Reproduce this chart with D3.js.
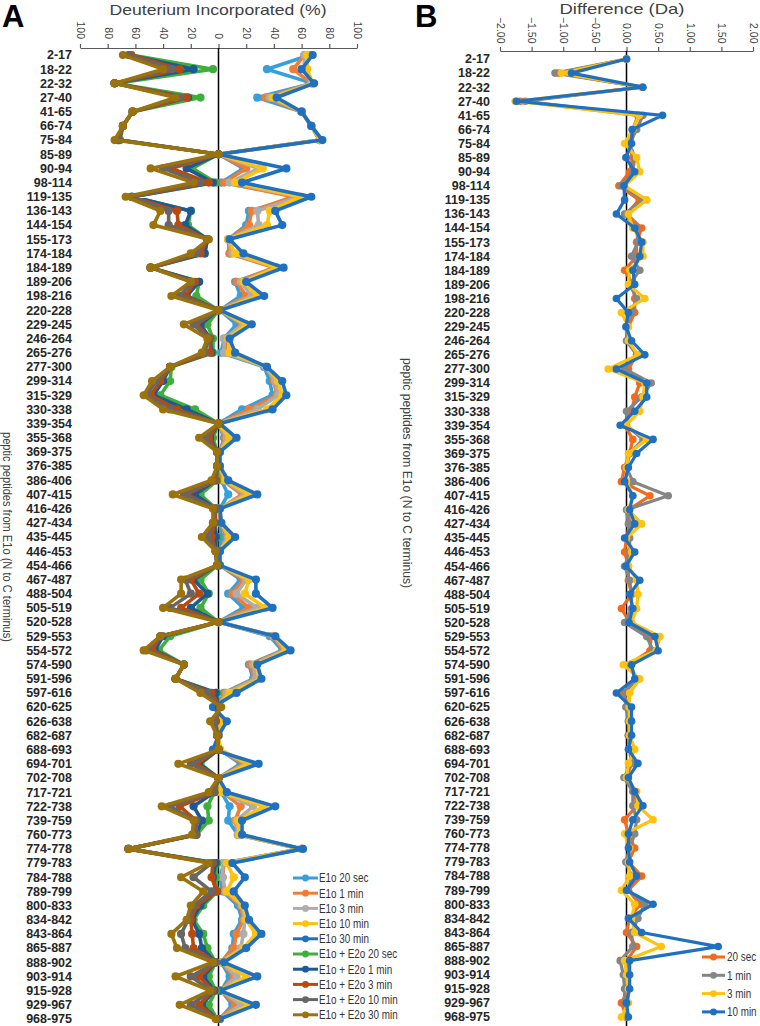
<!DOCTYPE html>
<html>
<meta charset="utf-8">
<style>
  body { margin: 0; background: #fff; }
  svg { display: block; }
  text { font-family: "Liberation Sans", Arial, sans-serif; }
</style>
<body>
<script src="https://d3js.org/d3.v7.min.js"></script>
<script>
// peptides, N to C terminus
const peptides = ["2-17","18-22","22-32","27-40","41-65","66-74","75-84","85-89","90-94","98-114",
  "119-135","136-143","144-154","155-173","174-184","184-189","189-206","198-216","220-228","229-245",
  "246-264","265-276","277-300","299-314","315-329","330-338","339-354","355-368","369-375","376-385",
  "386-406","407-415","416-426","427-434","435-445","446-453","454-466","467-487","488-504","505-519",
  "520-528","529-553","554-572","574-590","591-596","597-616","620-625","626-638","682-687","688-693",
  "694-701","702-708","717-721","722-738","739-759","760-773","774-778","779-783","784-788","789-799",
  "800-833","834-842","843-864","865-887","888-902","903-914","915-928","929-967","968-975"];

// panel A, E1o alone (% D, plotted to the right)
const e1o_20s = [66,35,68,28,60,67,73,0,18,2, 60,22,20,7,8,42,12,16,1,13, 4,2,33,37,39,17,0,4,1,1,
  2,7,1,1,2,1,1,16,7,18, 0,37,46,22,25,4,-1,1,0,1, 16,0,2,8,7,14,60,4,1,3, 14,17,11,10,2,8,2,10,1];
const e1o_1m = [62,54,67,34,60,67,73,0,20,4, 54,24,22,7,8,40,13,20,1,17, 5,5,34,40,42,22,0,5,1,1,
  3,17,1,1,6,1,1,18,10,22, 0,39,47,23,26,5,-1,1,0,1, 18,0,3,16,12,14,60,4,3,4, 16,18,13,11,2,11,2,12,1];
const e1o_3m = [62,62,67,37,60,67,73,0,29,8, 58,28,29,7,10,42,16,24,1,18, 4,4,34,41,43,28,0,6,1,1,
  4,19,1,2,7,1,1,20,13,28, 0,40,48,25,27,6,-1,1,0,1, 20,0,2,25,13,14,60,3,3,5, 17,19,18,16,2,13,2,16,1];
const e1o_10m = [64,64,68,39,60,67,74,0,32,12, 59,37,35,7,12,42,18,28,1,20, 7,8,35,43,46,35,0,8,1,1,
  5,22,1,2,8,1,1,22,19,34, 0,41,49,27,30,8,-1,2,0,1, 22,0,2,33,14,15,60,6,11,6, 18,20,27,18,2,20,2,22,1];
const e1o_30m = [68,60,69,42,60,67,75,0,49,17, 67,41,46,8,18,47,20,33,1,24, 8,12,35,46,49,39,1,13,1,1,
  7,28,1,2,12,1,1,27,27,39, 0,41,52,28,31,13,-4,6,0,-4, 29,0,6,41,17,17,61,10,19,11, 19,22,31,20,4,28,1,27,1];

// panel A, E1o + E2o (% D, plotted to the left)
const e2o_20s = [63,4,75,13,62,69,71,0,19,2, 62,20,22,8,10,49,14,16,0,8, 4,4,34,35,42,17,0,4,1,1,
  1,13,2,3,1,2,1,13,7,13, 0,35,43,25,31,1,0,2,1,0, 13,0,3,8,7,16,65,1,2,1, 11,18,11,8,2,7,2,7,1];
const e2o_1m = [64,18,75,22,62,69,72,0,23,4, 62,20,24,8,10,49,14,23,0,13, 6,5,35,40,47,23,0,6,1,1,
  2,17,2,3,2,2,1,18,8,20, 0,40,46,25,31,2,0,2,1,0, 14,0,3,18,12,16,65,2,4,2, 13,19,14,12,2,11,3,12,1];
const e2o_3m = [63,28,75,23,62,69,72,0,34,7, 63,30,29,8,13,49,17,24,0,16, 6,6,35,42,49,30,0,7,1,1,
  2,23,2,3,5,2,1,20,14,27, 0,42,48,25,31,5,-1,2,1,0, 16,0,3,28,16,16,65,4,5,1, 16,20,19,18,2,14,4,14,1];
const e2o_10m = [65,34,75,28,62,69,73,0,40,13, 63,36,36,8,16,49,19,28,0,18, 7,10,35,45,52,35,0,10,1,1,
  4,25,2,4,8,2,1,24,20,35, 0,42,52,25,31,8,-1,3,1,0, 20,0,4,35,17,17,65,5,18,5, 18,22,27,24,2,20,5,20,1];
const e2o_30m = [69,40,75,31,62,69,75,0,49,18, 67,42,47,7,20,49,20,34,0,25, 8,12,35,48,54,40,0,14,1,1,
  5,33,4,4,12,2,1,27,27,40, 0,42,54,25,31,13,-2,6,1,0, 29,0,7,41,18,19,65,7,27,11, 20,23,34,30,4,31,6,28,2];

// panel B, difference (Da)
const diff_20s = [0,-1.08,0.25,-1.68,0.18,0.1,0.03,0.1,0.05,-0.12, 0.2,0,0.24,0.16,0.16,-0.03,0.1,0.13,0.13,0.03,
  0.03,0.16,0.03,0.21,0.13,0.08,-0.03,0.1,0.05,-0.03, -0.08,0.37,0.03,0.05,0,-0.03,0.03,0.03,0.08,-0.08,
  0.05,0.39,0.37,0.03,0.16,-0.05,0.03,0.05,0.03,0.05, 0.08,0,0.13,0.16,-0.03,0.03,0.13,0.03,0.24,0.03,
  0.21,0.05,0,0.16,0,0,0.03,-0.08,0];
const diff_1m = [0,-1.13,0.25,-1.6,0.26,0.16,0.05,0.13,0.1,-0.08, 0.26,-0.03,0.16,0.18,0.08,0.21,0.05,0.16,0.08,0,
  0,0.16,-0.03,0.39,0.24,0,0,0.26,0.05,0, 0.1,0.66,0,0.03,0.05,0.05,-0.03,0.05,0.08,0.08,
  -0.03,0.32,0.42,0.05,0.16,-0.03,-0.01,0.03,0.03,0.05, 0.08,-0.04,0.1,0.1,0.16,0.13,0.05,-0.01,0.08,0.03,
  0.29,0.18,0.08,0.1,-0.1,-0.05,-0.03,-0.03,-0.01];
const diff_3m = [0,-1.03,0.25,-1.76,0.2,0.1,-0.03,0.16,0.21,-0.03, 0.32,0.03,0.1,0.26,0.26,0.05,0.03,0.29,-0.08,0.03,
  0.03,0.18,-0.29,0.29,0.26,0.21,-0.01,0.32,0.03,0, 0,0.1,0.03,0.24,0,0.08,0.03,0.16,0.18,0.16,
  0.08,0.53,0.47,-0.05,0.21,0.05,0.04,0.05,0.05,0.13, 0.03,0,0.16,0.18,0.42,-0.03,0.05,0.03,0.05,-0.08,
  0.13,0.08,0.13,0.55,-0.03,0,0.03,0.03,-0.08];
const diff_10m = [0,-0.87,0.26,-1.74,0.57,0.09,0.08,-0.01,0.13,-0.04, -0.03,-0.16,0.13,0.24,0.21,0.1,0.13,-0.16,0.03,-0.01,
  0.08,0.29,-0.16,0.32,0.32,0.13,-0.1,0.42,0.16,0.03, -0.03,0.1,0.05,0.13,-0.03,0.13,-0.01,0.21,0.05,0.1,
  0.04,0.45,0.5,0.08,0.13,-0.16,0.08,0.08,0.08,0.03, 0.18,0.03,0.13,0.26,0.1,0.03,0.03,0.05,0.16,0,
  0.42,0.03,0.24,1.45,0.05,0.05,0.05,0,0.03];

const tickA = [-100,-80,-60,-40,-20,0,20,40,60,80,100];
const tickB = [-2,-1.5,-1,-0.5,0,0.5,1,1.5,2];

// series tables (sign: E1o+E2o is drawn on the left)
const seriesA = [
  {name: "E1o 20 sec", values: e1o_20s, sign: 1, color: "#35a0dc"},
  {name: "E1o 1 min", values: e1o_1m, sign: 1, color: "#f07d33"},
  {name: "E1o 3 min", values: e1o_3m, sign: 1, color: "#adadad"},
  {name: "E1o 10 min", values: e1o_10m, sign: 1, color: "#ffc20e"},
  {name: "E1o 30 min", values: e1o_30m, sign: 1, color: "#1f70c1"},
  {name: "E1o + E2o 20 sec", values: e2o_20s, sign: -1, color: "#3fae3a"},
  {name: "E1o + E2o 1 min", values: e2o_1m, sign: -1, color: "#1b5a95"},
  {name: "E1o + E2o 3 min", values: e2o_3m, sign: -1, color: "#b84a0e"},
  {name: "E1o + E2o 10 min", values: e2o_10m, sign: -1, color: "#666666"},
  {name: "E1o + E2o 30 min", values: e2o_30m, sign: -1, color: "#9b720c"}
];
const seriesB = [
  {name: "20 sec", values: diff_20s, color: "#f26a1b"},
  {name: "1 min", values: diff_1m, color: "#858585"},
  {name: "3 min", values: diff_3m, color: "#ffc20e"},
  {name: "10 min", values: diff_10m, color: "#1f70c1"}
];

const W = 760, H = 1026;
const svg = d3.select("body").append("svg").attr("width", W).attr("height", H);

// condensed legend text (narrow font not installed, so squeeze horizontally)
function legendText(sel, x, size) {
  sel.append("text").attr("transform", `translate(${x},0) scale(0.79,1)`).attr("dy", "0.35em")
    .style("font-size", size + "px").attr("fill", "#333").text(d => d.name);
}

// ---------- panel A ----------
const xA = d3.scaleLinear().domain([-100, 100]).range([80, 357]);
const yA = d3.scalePoint().domain(peptides).range([55, 1019]);

svg.append("text").attr("x", 2).attr("y", 27)
  .style("font-size", "31px").style("font-weight", "bold").attr("fill", "#000").text("A");
svg.append("text").attr("x", 218).attr("y", 15).attr("text-anchor", "middle")
  .attr("textLength", 217).attr("lengthAdjust", "spacingAndGlyphs")
  .style("font-size", "15px").attr("fill", "#404040").text("Deuterium Incorporated (%)");

const axA = svg.append("g").attr("transform", "translate(0,48)")
  .call(d3.axisTop(xA).tickValues(tickA).tickSize(4).tickSizeOuter(0).tickFormat(d => Math.abs(d)));
axA.selectAll("path, line").attr("stroke", "#595959").attr("stroke-width", 1.2);
axA.selectAll("text").attr("transform", "rotate(90)").attr("x", -9).attr("y", 0).attr("dy", "0.35em")
  .attr("text-anchor", "end").style("font-size", "10.5px").attr("fill", "#404040");

svg.append("line").attr("x1", xA(0)).attr("x2", xA(0)).attr("y1", 48).attr("y2", H)
  .attr("stroke", "#000").attr("stroke-width", 1.5);

svg.append("g").selectAll("text").data(peptides).join("text")
  .attr("x", 72).attr("y", d => yA(d)).attr("dy", "0.35em").attr("text-anchor", "end")
  .style("font-size", "12.5px").style("font-weight", "bold").attr("fill", "#262626").text(d => d);

svg.append("text").attr("transform", "translate(8,537) rotate(90)").attr("text-anchor", "middle")
  .attr("dy", "0.35em").attr("textLength", 210).attr("lengthAdjust", "spacingAndGlyphs")
  .style("font-size", "13px").attr("fill", "#404040").text("peptic peptides from E1o (N to C terminus)");

seriesA.forEach(s => {
  const g = svg.append("g");
  const line = d3.line().x(d => xA(s.sign * d)).y((d, i) => yA(peptides[i]));
  g.append("path").attr("d", line(s.values)).attr("fill", "none")
    .attr("stroke", s.color).attr("stroke-width", 3.6).attr("stroke-linejoin", "round");
  g.selectAll("circle").data(s.values).join("circle")
    .attr("cx", d => xA(s.sign * d)).attr("cy", (d, i) => yA(peptides[i])).attr("r", 4.1)
    .attr("fill", s.color);
});

const legA = svg.append("g").selectAll("g").data(seriesA).join("g")
  .attr("transform", (d, i) => `translate(293,${878 + i * 15.2})`);
legA.append("line").attr("x1", 0).attr("x2", 25).attr("stroke", d => d.color).attr("stroke-width", 3);
legA.append("circle").attr("cx", 12.5).attr("r", 3.4).attr("fill", d => d.color);
legendText(legA, 26, 12.5);

// ---------- panel B ----------
const xB = d3.scaleLinear().domain([-2, 2]).range([500, 753]);
const yB = d3.scalePoint().domain(peptides).range([59, 1017]);

svg.append("text").attr("x", 415).attr("y", 27)
  .style("font-size", "31px").style("font-weight", "bold").attr("fill", "#000").text("B");
svg.append("text").attr("x", 622).attr("y", 14).attr("text-anchor", "middle")
  .attr("textLength", 125).attr("lengthAdjust", "spacingAndGlyphs")
  .style("font-size", "15px").attr("fill", "#404040").text("Difference (Da)");

const axB = svg.append("g").attr("transform", "translate(0,51)")
  .call(d3.axisTop(xB).tickValues(tickB).tickSize(4).tickSizeOuter(0).tickFormat(d3.format(".2f")));
axB.selectAll("path, line").attr("stroke", "#595959").attr("stroke-width", 1.2);
axB.selectAll("text").attr("transform", "rotate(90)").attr("x", -7.5).attr("y", 0).attr("dy", "0.35em")
  .attr("text-anchor", "end").style("font-size", "10.5px").attr("fill", "#404040");

svg.append("line").attr("x1", xB(0)).attr("x2", xB(0)).attr("y1", 51).attr("y2", H)
  .attr("stroke", "#000").attr("stroke-width", 1.5);

svg.append("g").selectAll("text").data(peptides).join("text")
  .attr("x", 490).attr("y", d => yB(d)).attr("dy", "0.35em").attr("text-anchor", "end")
  .style("font-size", "12.5px").style("font-weight", "bold").attr("fill", "#262626").text(d => d);

svg.append("text").attr("transform", "translate(408,473) rotate(90)").attr("text-anchor", "middle")
  .attr("dy", "0.35em").attr("textLength", 230).attr("lengthAdjust", "spacingAndGlyphs")
  .style("font-size", "13px").attr("fill", "#404040").text("peptic peptides from E1o (N to C terminus)");

seriesB.forEach(s => {
  const g = svg.append("g");
  const line = d3.line().x(d => xB(d)).y((d, i) => yB(peptides[i]));
  g.append("path").attr("d", line(s.values)).attr("fill", "none")
    .attr("stroke", s.color).attr("stroke-width", 3.2).attr("stroke-linejoin", "round");
  g.selectAll("circle").data(s.values).join("circle")
    .attr("cx", d => xB(d)).attr("cy", (d, i) => yB(peptides[i])).attr("r", 3.8)
    .attr("fill", s.color);
});

const legB = svg.append("g").selectAll("g").data(seriesB).join("g")
  .attr("transform", (d, i) => `translate(702,${957 + i * 18.3})`);
legB.append("line").attr("x1", 0).attr("x2", 23).attr("stroke", d => d.color).attr("stroke-width", 3);
legB.append("circle").attr("cx", 11.5).attr("r", 3.4).attr("fill", d => d.color);
legendText(legB, 25, 12.5);
</script>
</body>
</html>
